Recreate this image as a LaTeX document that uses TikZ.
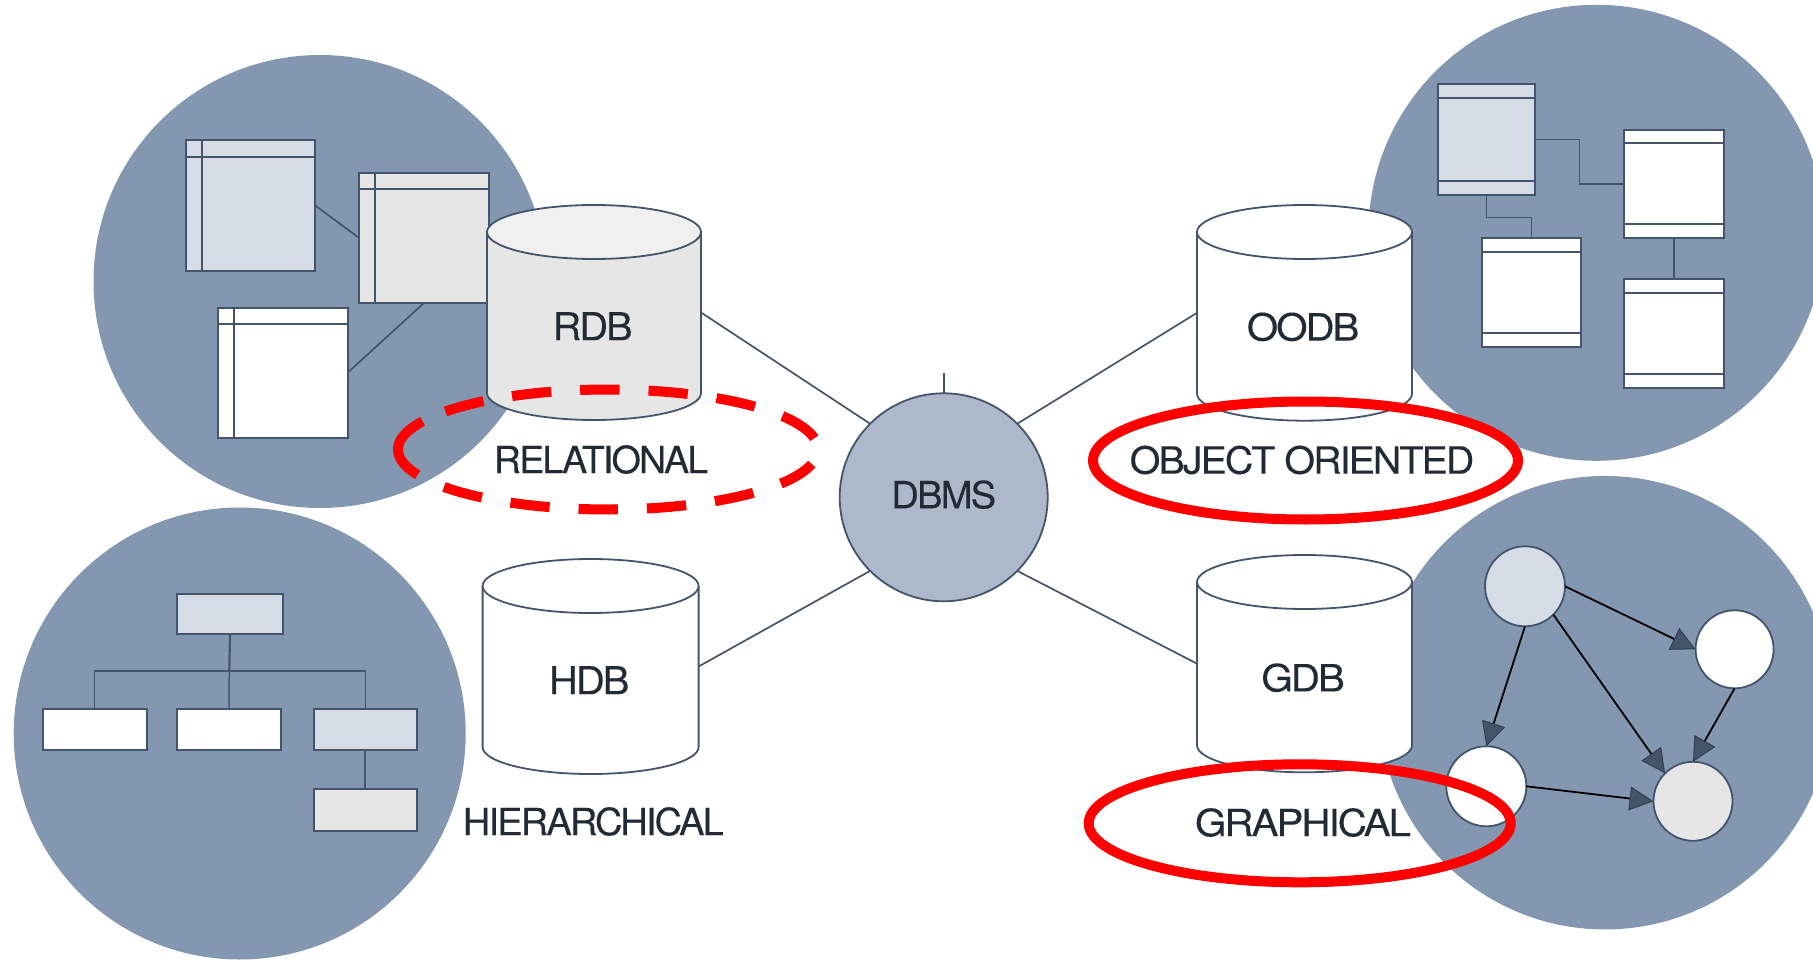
\documentclass[tikz,border=0pt]{standalone}
\usepackage{graphicx}
\usepackage{fontspec}
\usetikzlibrary{arrows.meta}
\newfontfamily\lblfont[LetterSpace=-5,FakeBold=0.15]{TeX Gyre Heros}
\definecolor{slate}{HTML}{44546A}
\definecolor{bluegrey}{HTML}{8497B0}
\definecolor{midblue}{HTML}{ADB9CA}
\definecolor{paleblue}{HTML}{D6DCE5}
\definecolor{palegrey}{HTML}{E7E6E6}
\definecolor{lighttop}{HTML}{F0F0F0}
\definecolor{inkdark}{HTML}{222B35}
\newcommand\lbl[2]{\resizebox{#1pt}{28pt}{\fontsize{38}{40}\lblfont #2}}
\tikzset{
  bigdisc/.style={circle,fill=bluegrey,draw=none,minimum size=#1,inner sep=0pt},
  boxnode/.style={rectangle,draw=slate,line width=2pt,inner sep=0pt,outer sep=0pt},
  inner line/.style={draw=slate,line width=1.8pt},
  thin link/.style={draw=slate,line width=1.1pt},
  link/.style={draw=slate,line width=1.7pt},
  cylframe/.style={rectangle,inner sep=0pt,outer sep=0pt,text=inkdark},
  cylline/.style={draw=slate,line width=1.8pt},
  caption/.style={inner sep=0pt,text=inkdark},
  gnode/.style={circle,draw=slate,line width=1.8pt,inner sep=0pt,outer sep=0pt},
  garrow/.style={draw=black,line width=1.8pt,-{Triangle[length=24pt,width=24pt,fill=slate,color=slate!75!black,line width=1pt]}},
  redring/.style={draw=red,line width=10pt},
  reddash/.style={redring,dash pattern=on 39.4pt off 29pt},
}
% \tbl{name}{x1}{y1}{x2}{y2}{fill}
\newcommand\tbl[6]{\node[boxnode,fill=#6,minimum width={(#4-#2)*1pt},minimum height={(#5-#3)*1pt}] (#1) at ({(#2+#4)/2},{(#3+#5)/2}) {};}
% \cyl{name}{cx}{top}{bottom}{rx}{width}{text}
\newcommand\cyl[7]{%
  \node[cylframe,minimum width={2*#5*1pt},minimum height={(#4-#3)*1pt}] (#1) at ({#2},{(#3+#4)/2})
    {\raisebox{-27.7pt}[0pt][0pt]{\kern-2.8pt\lbl{#6}{#7}}};%
}
% outline of a cylinder, under its text
\newcommand\cylbody[6]{%
  \filldraw[cylline,fill=#5] ({#1-#4},{#2+27}) -- ({#1-#4},{#3-27})
    .. controls ({#1-#4},{#3-27+0.5523*27}) and ({#1-0.5523*#4},{#3}) .. ({#1},{#3})
    .. controls ({#1+0.5523*#4},{#3}) and ({#1+#4},{#3-27+0.5523*27}) .. ({#1+#4},{#3-27})
    -- ({#1+#4},{#2+27});
  \filldraw[cylline,fill=#6] ({#1},{#2+27}) ellipse [x radius=#4pt,y radius=27pt];
}
\begin{document}
\begin{tikzpicture}[x=1pt,y=-1pt]
\useasboundingbox (0,0) rectangle (1813,960);
\clip (0,0) rectangle (1813,960);
\fill[white] (0,0) rectangle (1813,960);

% background discs
\node[bigdisc=453pt] (dtl) at (320,281.5) {};
\node[bigdisc=456pt] (dtr) at (1596.5,232.8) {};
\node[bigdisc=452pt] (dbl) at (239.7,733.5) {};
\node[bigdisc=453.5pt] (dbr) at (1605,702.7) {};

% relational tables
\tbl{ta}{185.7}{140}{315}{270.7}{paleblue}
\tbl{tb}{359}{172.7}{489}{303}{palegrey}
\tbl{tc}{218}{307.7}{347.6}{437.7}{white}
\draw[inner line] (185.7,156.7) -- (315,156.7) (201.7,140) -- (201.7,270.7);
\draw[inner line] (359,189) -- (489,189) (374.7,172.7) -- (374.7,303);
\draw[inner line] (218,323.7) -- (347.6,323.7) (234,307.7) -- (234,437.7);
\draw[link] (ta.east) -- (tb.west);
\draw[link] (tc.east) -- (tb.south);

% object tables
\tbl{oa}{1438}{84}{1535}{195}{paleblue}
\tbl{ob}{1624}{129.7}{1723.8}{238.3}{white}
\tbl{oc}{1481.6}{238}{1580.7}{347}{white}
\tbl{od}{1624}{279}{1723.8}{388.3}{white}
\draw[inner line] (1438,97.7) -- (1535,97.7) (1438,181) -- (1535,181);
\draw[inner line] (1624,143) -- (1723.8,143) (1624,224.3) -- (1723.8,224.3);
\draw[inner line] (1481.6,251.7) -- (1580.7,251.7) (1481.6,332.7) -- (1580.7,332.7);
\draw[inner line] (1624,292.7) -- (1723.8,292.7) (1624,374) -- (1723.8,374);
\coordinate (oelbow) at (1579.3,160);
\draw[thin link] (oa.east) -| (oelbow) |- (ob.west);
\coordinate (oelbowb) at (1485,217.3);
\draw[thin link] (oa.south) -- (oa.south |- oelbowb) -| (oc.north);
\draw[link] (ob.south) -- (od.north);

% hierarchy boxes
\tbl{hr}{177}{594}{283}{633.7}{paleblue}
\tbl{ha}{42.7}{709}{146.8}{750.3}{white}
\tbl{hb}{177}{709}{281}{750.3}{white}
\tbl{hc}{313.6}{709}{416.9}{750.3}{paleblue}
\tbl{hd}{313.6}{789}{416.9}{830.7}{palegrey}
\coordinate (hbar) at (229.3,671);
\draw[link,line width=2.2pt] (hr.south) -- (hbar);
\draw[thin link] (hbar) -| (ha.north);
\draw[thin link] (hbar) -| (hc.north);
\draw[thin link,line width=1.5pt] (hbar) -- (hb.north);
\draw[link] (hc.south) -- (hd.north);

% graph
\node[gnode,fill=paleblue,minimum size=80pt] (n1) at (1525,586.3) {};
\node[gnode,fill=white,minimum size=78pt] (n2) at (1734.6,649.3) {};
\node[gnode,fill=white,minimum size=80pt] (n3) at (1486.3,786.3) {};
\node[gnode,fill=palegrey,minimum size=79pt] (n4) at (1693,801.3) {};
\draw[garrow] (n1.east) -- (n2.west);
\draw[garrow] (n1.south) -- (n3.north);
\draw[garrow] (n1.-45) -- (n4.135);
\draw[garrow] (n2.south) -- (n4.north);
\draw[garrow] (n3.east) -- (n4.west);

% cylinders
\cylbody{594}{205}{420}{107}{palegrey}{lighttop}
\cylbody{590.6}{559}{774}{108}{white}{white}
\cylbody{1304.5}{205}{420.7}{107.5}{white}{white}
\cylbody{1304.5}{555}{772.3}{107.5}{white}{white}
\cyl{rdb}{594}{205}{420}{107}{80}{RDB}
\cyl{hdb}{590.6}{559}{774}{108}{80.5}{HDB}
\cyl{oodb}{1304.5}{205}{420.7}{107.5}{112.5}{OODB}
\cyl{gdb}{1304.5}{555}{772.3}{107.5}{83.5}{GDB}

% central node
\node[circle,draw=slate,line width=1.8pt,fill=midblue,minimum size=208pt,inner sep=0pt,outer sep=0pt,text=inkdark] (dbms) at (943.7,497.3)
  {\raisebox{-11pt}[0pt][0pt]{\lbl{105}{DBMS}}};
\coordinate (tick) at (943.7,373.3);
\draw[link] (dbms.north) -- (tick);
\draw[link] (rdb.east) -- (dbms.135);
\draw[link] (hdb.east) -- (dbms.225);
\draw[link] (oodb.west) -- (dbms.45);
\draw[link] (gdb.west) -- (dbms.315);

% captions
\node[caption] (crel) at (601,459.5) {\lbl{214.5}{RELATIONAL}};
\node[caption] (chier) at (593.3,821.5) {\lbl{261}{HIERARCHICAL}};
\node[caption] (cobj) at (1302,460) {\lbl{344.5}{OBJECT ORIENTED}};
\node[caption] (cgraph) at (1303,822.5) {\lbl{216}{GRAPHICAL}};

% red rings
\draw[redring] plot[domain=155:208,samples=60] ({608+210*cos(\x)},{449.5+60*sin(\x)});
\draw[reddash,dash phase=39.4pt] plot[domain=-155:-14,samples=200] ({608+210*cos(\x)},{449.5-60*sin(\x)});
\draw[reddash] plot[domain=10.8:142,samples=200] ({608+210*cos(\x)},{449.5-60*sin(\x)});
\draw[redring] (1305.5,460.5) ellipse [x radius=212.5pt,y radius=59pt];
\draw[redring] (1299.7,823.3) ellipse [x radius=211pt,y radius=59pt];
\end{tikzpicture}
\end{document}
